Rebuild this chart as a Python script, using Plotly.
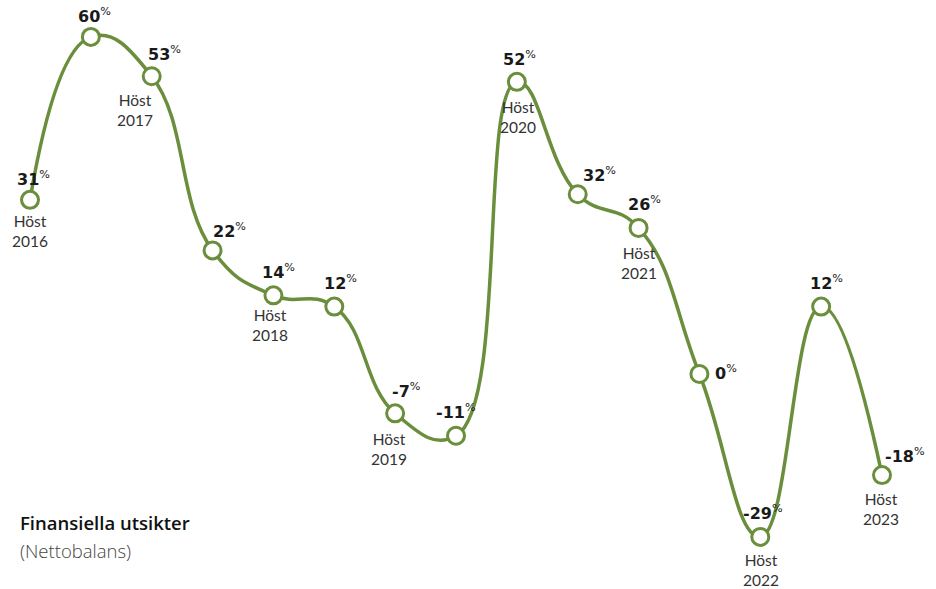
import plotly.graph_objects as go

# Net balance, survey rounds 2016-2023
values = [31, 60, 53, 22, 14, 12, -7, -11, 52, 32, 26, 0, -29, 12, -18]
season_labels = ["Höst<br>2016", None, "Höst<br>2017", None, "Höst<br>2018", None,
                 "Höst<br>2019", None, "Höst<br>2020", None, "Höst<br>2021", None,
                 "Höst<br>2022", None, "Höst<br>2023"]

# Pixel offsets for the value labels (x shift, y shift)
value_offsets = [(3, 21), (4, 21), (13, 23), (17, 20), (5, 24), (6, 24), (11, 23),
                 (0, 24), (3, 23), (22, 20), (6, 24), (27, 2), (3, 24), (5, 24), (23, 20)]
# Pixel offsets for the season labels (x shift, distance below the point)
season_offsets = {0: (0, 31), 2: (-17, 34), 4: (-3, 30), 6: (-6, 36),
                  8: (1, 35), 10: (0, 35), 12: (1, 33), 14: (-1, 34)}

GREEN = "#6a8e3c"
x = list(range(len(values)))

fig = go.Figure()
fig.add_trace(go.Scatter(
    x=x, y=values, mode="lines+markers",
    line=dict(color=GREEN, width=3.5, shape="spline", smoothing=1.3),
    marker=dict(size=17, color="white", line=dict(color=GREEN, width=3)),
    hoverinfo="skip", showlegend=False,
))

annotations = []
for i, v in enumerate(values):
    dx, dy = value_offsets[i]
    annotations.append(dict(
        x=i, y=v, xref="x", yref="y", showarrow=False,
        text=f"<b>{v}</b><sup>%</sup>",
        xshift=dx, yshift=dy,
        font=dict(family="DejaVu Sans", size=16, color="#1a1a1a"),
        xanchor="center", yanchor="middle",
    ))
    if season_labels[i]:
        sx, sy = season_offsets[i]
        annotations.append(dict(
            x=i, y=v, xref="x", yref="y", showarrow=False,
            text=season_labels[i], xshift=sx, yshift=-sy,
            font=dict(family="Lato", size=15.5, color="#333333"),
            xanchor="center", yanchor="middle",
        ))

W, H = 936, 589
annotations.append(dict(
    x=18 / W, y=(H - 522) / H, xref="paper", yref="paper", showarrow=False,
    text="Finansiella utsikter", xanchor="left", yanchor="middle",
    font=dict(family="Open Sans", size=18.5, color="#111111", weight=600),
))
annotations.append(dict(
    x=18 / W, y=(H - 550) / H, xref="paper", yref="paper", showarrow=False,
    text="(Nettobalans)", xanchor="left", yanchor="middle",
    font=dict(family="Open Sans", size=18.5, color="#444444", weight=300),
))

px_per_step = 852 / 14
px_per_unit = 500 / 89
fig.update_layout(
    width=W, height=H,
    margin=dict(l=0, r=0, t=0, b=0),
    paper_bgcolor="white", plot_bgcolor="white",
    xaxis=dict(visible=False, range=[-30 / px_per_step, 14 + 54 / px_per_step]),
    yaxis=dict(visible=False, range=[-(H - 374) / px_per_unit, 374 / px_per_unit]),
    annotations=annotations,
)

fig.write_html("out.html")
